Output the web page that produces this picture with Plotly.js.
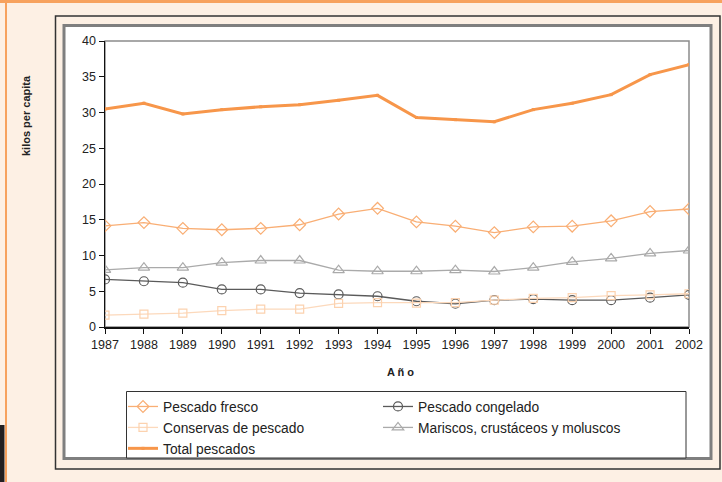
<!DOCTYPE html>
<html>
<head>
<meta charset="utf-8">
<script src="https://cdn.plot.ly/plotly-3.0.1.min.js"></script>
<style>html,body{margin:0;padding:0;background:#FDF0E4;}#chart{width:722px;height:482px;}</style>
</head>
<body>
<div id="chart"></div>
<script>
var years = [1987,1988,1989,1990,1991,1992,1993,1994,1995,1996,1997,1998,1999,2000,2001,2002];
var pescadoFresco = [14.15,14.6,13.8,13.6,13.8,14.3,15.8,16.6,14.7,14.1,13.2,14.0,14.1,14.85,16.15,16.5];
var pescadoCongelado = [6.65,6.4,6.2,5.25,5.25,4.75,4.55,4.3,3.6,3.25,3.75,3.9,3.75,3.75,4.1,4.5];
var conservasPescado = [1.65,1.8,1.95,2.3,2.5,2.5,3.3,3.4,3.35,3.4,3.75,4.0,4.1,4.4,4.5,4.65];
var mariscos = [8.0,8.3,8.3,9.0,9.3,9.3,7.95,7.8,7.8,7.95,7.76,8.3,9.1,9.6,10.3,10.7];
var totalPescados = [30.5,31.3,29.8,30.4,30.8,31.1,31.7,32.4,29.3,29.0,28.7,30.4,31.3,32.5,35.3,36.7];
var yTicks = [0,5,10,15,20,25,30,35,40];

// pixel -> paper helpers (plot area 105..689 x, 41..327 y)
var L = 105, R = 689, T = 41, B = 327;
function px(x){ return (x - L) / (R - L); }
function py(y){ return (B - y) / (B - T); }

var traces = [
  {name:'Pescado fresco', x:years, y:pescadoFresco, mode:'lines+markers',
   line:{color:'#F9AE74', width:1.3}, marker:{symbol:'diamond-open', size:9, color:'#F9AE74', line:{width:1.2}}},
  {name:'Pescado congelado', x:years, y:pescadoCongelado, mode:'lines+markers',
   line:{color:'#5A5A5A', width:1.3}, marker:{symbol:'circle-open', size:9, color:'#5A5A5A', line:{width:1.2}}},
  {name:'Conservas de pescado', x:years, y:conservasPescado, mode:'lines+markers',
   line:{color:'#FCD9BC', width:1.3}, marker:{symbol:'square-open', size:8, color:'#FCD2AF', line:{width:1.2}}},
  {name:'Mariscos, crustáceos y moluscos', x:years, y:mariscos, mode:'lines+markers',
   line:{color:'#AAAAAA', width:1.3}, marker:{symbol:'triangle-up-open', size:10, color:'#AAAAAA', line:{width:1.2}}},
  {name:'Total pescados', x:years, y:totalPescados, mode:'lines+markers',
   line:{color:'#F7964A', width:3}, marker:{symbol:'square', size:3, color:'#F7964A'}}
];

var shapes = [
  {type:'rect', xref:'paper', yref:'paper', x0:px(0), x1:px(722), y0:py(0), y1:py(3), fillcolor:'#F7A25E', line:{width:0}, layer:'below'},
  {type:'rect', xref:'paper', yref:'paper', x0:px(5), x1:px(7), y0:py(0), y1:py(482), fillcolor:'#F7A25E', line:{width:0}, layer:'below'},
  {type:'rect', xref:'paper', yref:'paper', x0:px(0), x1:px(4.5), y0:py(425), y1:py(482), fillcolor:'#231F20', line:{width:0}, layer:'below'},
  {type:'rect', xref:'paper', yref:'paper', x0:px(55.5), x1:px(720), y0:py(16), y1:py(469), fillcolor:'rgba(0,0,0,0)', line:{color:'#333333', width:1.5}, layer:'below'},
  {type:'rect', xref:'paper', yref:'paper', x0:px(64), x1:px(711), y0:py(25.5), y1:py(458.5), fillcolor:'#FFFFFF', line:{color:'#7F7F7F', width:3}, layer:'below'},
  {type:'rect', xref:'paper', yref:'paper', x0:0, x1:1, y0:0, y1:1, fillcolor:'rgba(0,0,0,0)', line:{color:'#8C8C8C', width:1.5}, layer:'below'},
  {type:'rect', xref:'paper', yref:'paper', x0:px(126.5), x1:px(686), y0:py(391.5), y1:py(458), fillcolor:'#FFFFFF', line:{color:'#333333', width:1}, layer:'below'}
];

var layout = {
  width:722, height:482,
  margin:{l:L, r:722-R, t:T, b:482-B, pad:0},
  paper_bgcolor:'#FDF0E4', plot_bgcolor:'rgba(0,0,0,0)',
  font:{family:'Liberation Sans, Arial, sans-serif', color:'#222222', size:12},
  showlegend:true,
  xaxis:{range:[1987,2002], tickvals:years, ticktext:years.map(String), showgrid:false, zeroline:false,
         showline:true, linecolor:'#111111', linewidth:1.5, ticks:'outside', ticklen:5, tickcolor:'#111111', tickwidth:1,
         tickfont:{size:12.5, color:'#222'}, fixedrange:true},
  yaxis:{range:[0,40], tickvals:yTicks, showgrid:false, zeroline:false,
         showline:true, linecolor:'#111111', linewidth:1.5, ticks:'outside', ticklen:5, tickcolor:'#111111', tickwidth:1,
         tickfont:{size:12.5, color:'#222'}, fixedrange:true},
  legend:{orientation:'h', x:px(123), xanchor:'left', y:py(391), yanchor:'top', bgcolor:'rgba(0,0,0,0)', borderwidth:0,
          entrywidth:210, entrywidthmode:'pixels', font:{size:13.8, color:'#222'}, traceorder:'normal', tracegroupgap:0},
  shapes:shapes,
  annotations:[
    {text:'<b>kilos per capita</b>', xref:'paper', yref:'paper', x:px(26), y:py(115), xanchor:'center', yanchor:'middle',
     textangle:-90, showarrow:false, font:{size:11, color:'#222'}},
    {text:'<b>A ñ o</b>', xref:'paper', yref:'paper', x:px(400), y:py(372), xanchor:'center', yanchor:'middle',
     showarrow:false, font:{size:11, color:'#222'}}
  ]
};

Plotly.newPlot('chart', traces, layout, {staticPlot:true, displayModeBar:false});
</script>
</body>
</html>
